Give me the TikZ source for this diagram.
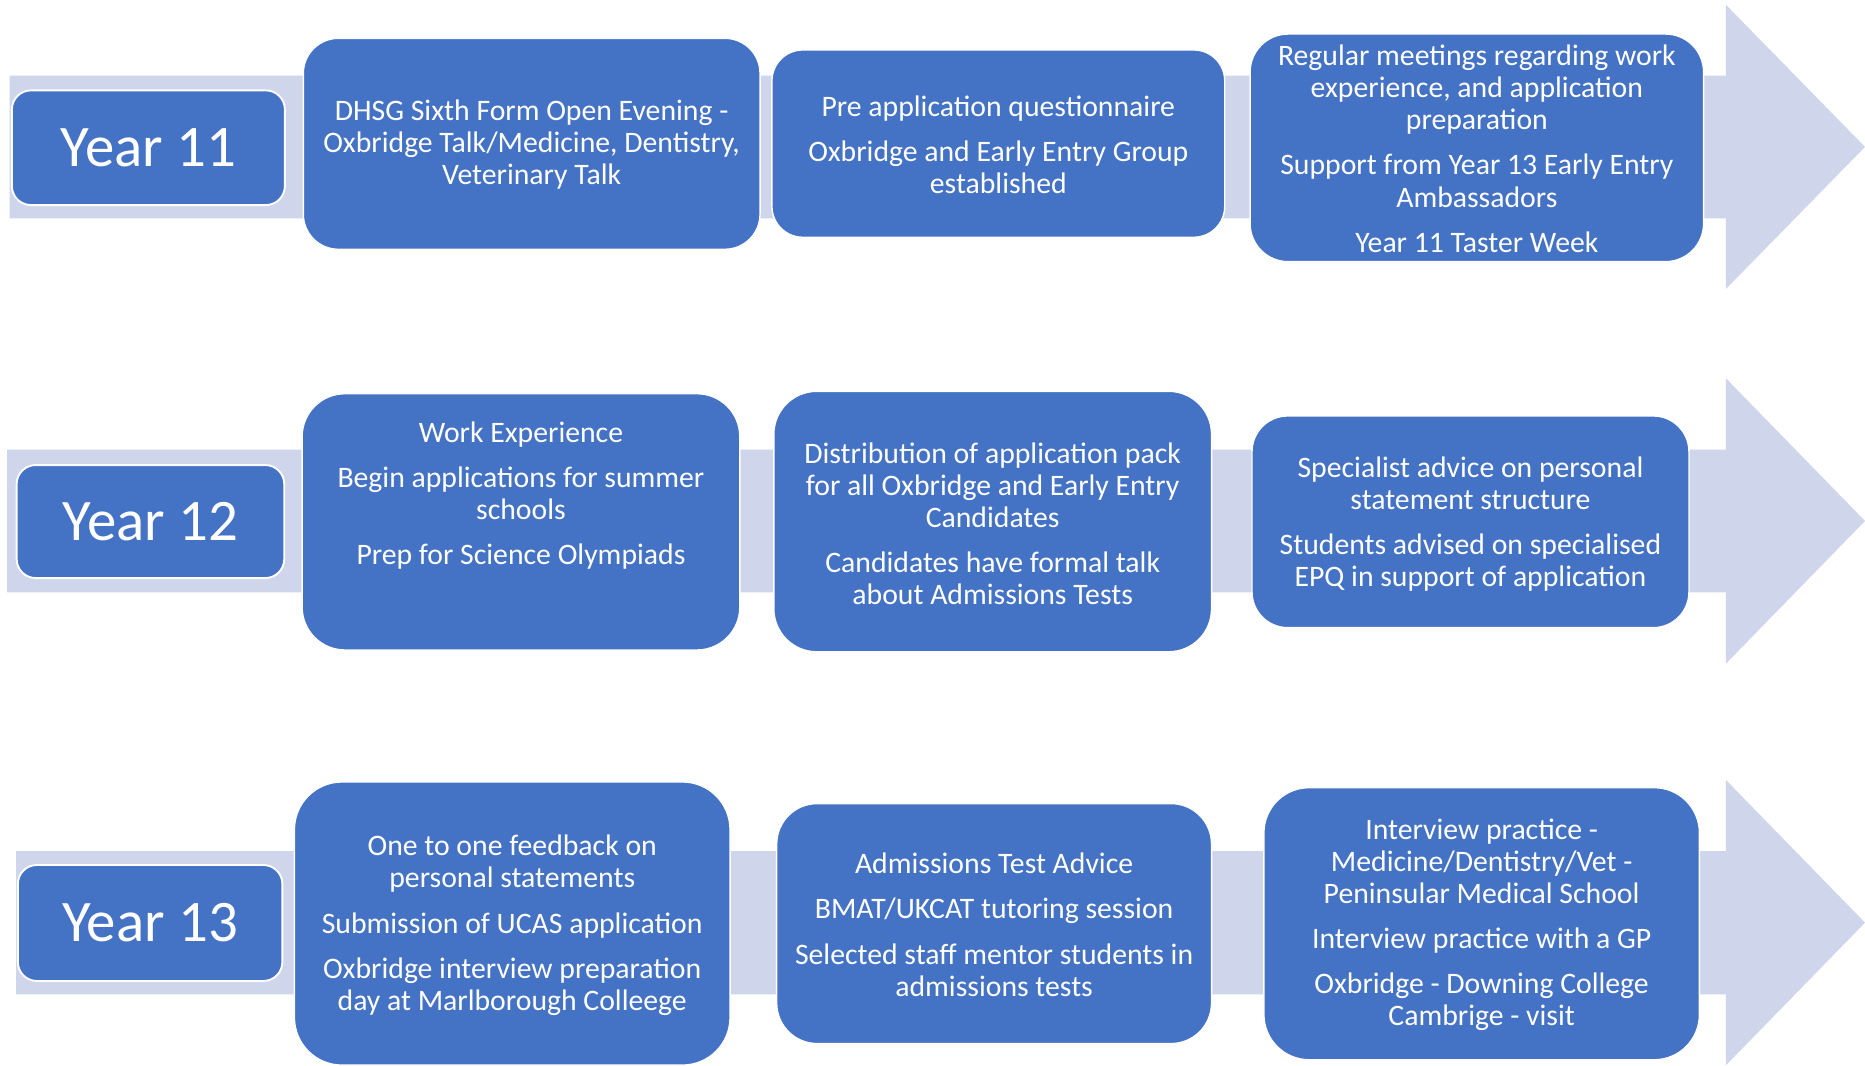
\documentclass[tikz,border=0pt]{standalone}
\usepackage{fontspec}
\setmainfont{Carlito}
\definecolor{boxblue}{HTML}{4472C4}
\definecolor{barlav}{HTML}{CFD5EA}
\tikzset{
  bar/.style={fill=barlav, draw=none},
  yearbox/.style={draw=white, line width=1.6pt, fill=boxblue, text=white,
    rounded corners=16pt, inner sep=0pt, font=\fontsize{49.5}{58}\selectfont},
  stepbox/.style={draw=white, line width=1.2pt, fill=boxblue, inner sep=0pt},
  steptext/.style={text=white, align=center, inner sep=0pt, yshift=-2pt, font=\fontsize{25}{27}\selectfont},
}
\newcommand{\pgap}{\\[11pt]}
\begin{document}
\begin{tikzpicture}[x=1pt,y=-1pt]
\useasboundingbox (0,0) rectangle (1568,896);
% arrows (bars)
\fill[bar] (8,63.5) -- (1451,63.5) -- (1451,4) -- (1568,123.5) -- (1451,243) -- (1451,183.5) -- (8,183.5) -- cycle;
\fill[bar] (6,378) -- (1451,378) -- (1451,318) -- (1568,438) -- (1451,558) -- (1451,498) -- (6,498) -- cycle;
\fill[bar] (13.5,715.5) -- (1451,715.5) -- (1451,655.7) -- (1568,775.7) -- (1451,895.7) -- (1451,836) -- (13.5,836) -- cycle;

% year labels
\node[yearbox, minimum width=229.5pt, minimum height=96.4pt] (y11) at (124.75,124.2) {Year 11};
\node[yearbox, minimum width=225pt, minimum height=95pt] (y12) at (126.5,438.5) {Year 12};
\node[yearbox, minimum width=222.4pt, minimum height=97.5pt] (y13) at (126.2,776) {Year 13};

% row 1 boxes
\node[stepbox, minimum width=384pt, minimum height=177.4pt, rounded corners=29.5pt] (r1a) at (447,120.9) {};
\node[stepbox, minimum width=380.7pt, minimum height=157.5pt, rounded corners=26pt] (r1b) at (839.35,120.75) {};
\node[stepbox, minimum width=381.3pt, minimum height=191.4pt, rounded corners=32pt] (r1c) at (1241.65,124.3) {};
% row 2 boxes
\node[stepbox, minimum width=368pt, minimum height=215.5pt, rounded corners=36pt] (r2a) at (438,438.75) {};
\node[stepbox, minimum width=368pt, minimum height=219pt, rounded corners=36pt] (r2b) at (834.6,438.5) {};
\node[stepbox, minimum width=367.4pt, minimum height=178pt, rounded corners=30pt] (r2c) at (1236.3,438.7) {};
% row 3 boxes
\node[stepbox, minimum width=366.3pt, minimum height=238.1pt, rounded corners=40pt] (r3a) at (430.65,776.45) {};
\node[stepbox, minimum width=365.6pt, minimum height=201.8pt, rounded corners=34pt] (r3b) at (835.8,776.5) {};
\node[stepbox, minimum width=366.2pt, minimum height=228.8pt, rounded corners=38pt] (r3c) at (1245.7,776.6) {};

% texts row 1
\node[steptext] (t1a) at (447,119.5) {DHSG Sixth Form Open Evening -\\Oxbridge Talk/Medicine, Dentistry,\\Veterinary Talk};
\node[steptext] (t1b) at (839.35,120) {Pre application questionnaire\pgap Oxbridge and Early Entry Group\\established};
\node[steptext] (t1c) at (1241.65,123) {Regular meetings regarding work\\experience, and application\\preparation\pgap Support from Year 13 Early Entry\\Ambassadors\pgap Year 11 Taster Week};
% texts row 2
\node[steptext] (t2a) at (438,414.5) {Work Experience\pgap Begin applications for summer\\schools\pgap Prep for Science Olympiads};
\node[steptext] (t2b) at (834.6,438.5) {Distribution of application pack\\for all Oxbridge and Early Entry\\Candidates\pgap Candidates have formal talk\\about Admissions Tests};
\node[steptext] (t2c) at (1236.3,438.5) {Specialist advice on personal\\statement structure\pgap Students advised on specialised\\EPQ in support of application};
% texts row 3
\node[steptext] (t3a) at (430.65,776) {One to one feedback on\\personal statements\pgap Submission of UCAS application\pgap Oxbridge interview preparation\\day at Marlborough Colleege};
\node[steptext] (t3b) at (835.8,775.5) {Admissions Test Advice\pgap BMAT/UKCAT tutoring session\pgap Selected staff mentor students in\\admissions tests};
\node[steptext] (t3c) at (1245.7,775.5) {Interview practice -\\Medicine/Dentistry/Vet -\\Peninsular Medical School\pgap Interview practice with a GP\pgap Oxbridge - Downing College\\Cambrige - visit};
\end{tikzpicture}
\end{document}
